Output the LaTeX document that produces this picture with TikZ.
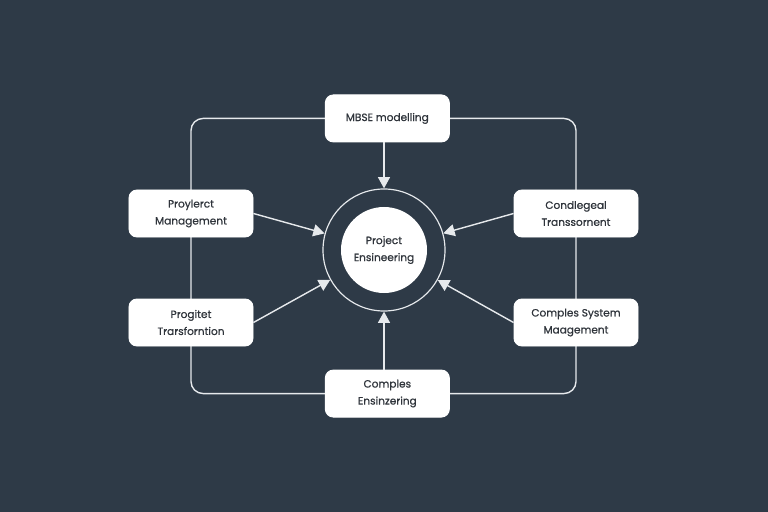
\documentclass[tikz,border=0pt]{standalone}
\usepackage{fontspec}
\setmainfont{Poppins}
\newfontfamily\labelfont{Poppins}[BoldFont=Poppins, BoldFeatures={FakeBold=0.7}]
\usepackage{tikz}
\usetikzlibrary{positioning,arrows.meta,backgrounds}

\definecolor{slate}{HTML}{2E3A47}
\definecolor{inkgray}{HTML}{2F343B}
\definecolor{wire}{HTML}{E6E9EC}

\begin{document}
\begin{tikzpicture}[
x=0.03cm, y=-0.03cm,
topicbox/.style={rectangle, rounded corners=0.24cm, fill=white, draw=white, line width=0.8pt,
  minimum width=3.72cm, minimum height=1.41cm, align=center, text=inkgray,
  font=\labelfont\bfseries\fontsize{9}{14.5}\selectfont},
ringnode/.style={circle, draw=wire, line width=1pt, minimum size=3.66cm},
corenode/.style={circle, fill=white, minimum size=2.58cm, align=center, text=inkgray,
  font=\labelfont\bfseries\fontsize{9}{14.5}\selectfont},
frameline/.style={draw=wire, line width=1.2pt, rounded corners=0.36cm},
feed/.style={-{Triangle[length=3.4mm, width=3.6mm]}, draw=wire, fill=wire, line width=1.2pt},
]
\useasboundingbox (0,0) rectangle (768,512);

% Defining the centre
\node[ringnode] (ring) at (384,250) {};
\node[corenode] (core) at (384,250) {Project\\Ensineering};

% Defining the boxes
\node[topicbox] (mbse) [above=1.38cm of ring, xshift=0.1cm] {MBSE modelling};
\node[topicbox] (comp) [below=1.74cm of ring, xshift=0.1cm] {Comples\\Ensinzering};
\node[topicbox] (pm) at (191,213.5) {Proylerct\\Management};
\node[topicbox] (pt) at (191,322.5) {Progitet\\Trarsforntion};
\node[topicbox] (ct) at (576,213.5) {Condlegeal\\Transsornent};
\node[topicbox] (csm) at (576,322.5) {Comples System\\Maagement};

% Background and outer frame
\begin{scope}[on background layer]
\fill[slate] (0,0) rectangle (768,512);
\draw[frameline] (mbse.center) -| (pm.center) -- (pt.center) |- (comp.center)
  -| (csm.center) -- (ct.center) |- (mbse.center);
\end{scope}

% Relationships towards the centre
\draw[feed] (mbse.south -| ring.north) -- (ring.north);
\draw[feed] (comp.north -| ring.south) -- (ring.south);
\draw[feed] (pm.east) -- (ring);
\draw[feed] (pt.east) -- (ring);
\draw[feed] (ct.west) -- (ring);
\draw[feed] (csm.west) -- (ring);

\end{tikzpicture}
\end{document}
